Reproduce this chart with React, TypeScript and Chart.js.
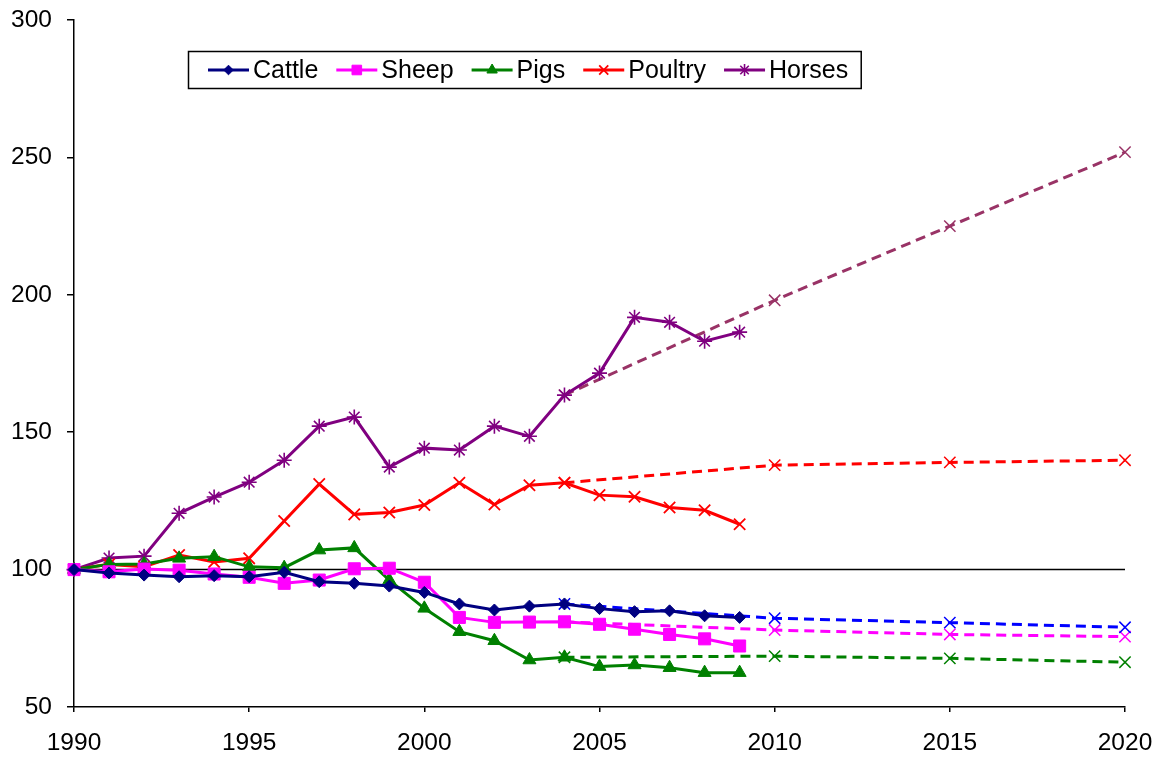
import React, { useEffect, useRef } from 'react';
import { Chart, registerables } from 'chart.js';
import { drawPoint } from 'chart.js/helpers';

Chart.register(...registerables);

// ---- data ----
const years = [1990, 1991, 1992, 1993, 1994, 1995, 1996, 1997, 1998, 1999, 2000, 2001, 2002, 2003, 2004, 2005, 2006, 2007, 2008, 2009];
const cattle = [100, 98.8, 98, 97.4, 97.8, 97.4, 99, 95.6, 95, 94, 91.7, 87.5, 85.3, 86.7, 87.5, 85.8, 84.7, 85, 83.2, 82.6];
const sheep = [100, 99.2, 100.2, 99.8, 98.4, 97.2, 95, 96.2, 100.3, 100.5, 95.4, 82.6, 80.8, 80.9, 81, 80.1, 78.3, 76.4, 74.8, 72.2];
const pigs = [100, 101.9, 102, 104.1, 104.7, 101, 100.7, 107.1, 107.9, 96.2, 85.9, 77.4, 74.1, 67.1, 68.1, 64.7, 65.3, 64.3, 62.5, 62.5];
const poultry = [100, 101.9, 101, 105.3, 102.8, 104.1, 117.7, 131.1, 120.1, 120.8, 123.5, 131.6, 123.7, 130.7, 131.6, 127.1, 126.5, 122.6, 121.6, 116.5];
const horses = [100, 104.2, 104.9, 120.5, 126.4, 131.8, 139.8, 152.2, 155.5, 137.3, 144.2, 143.5, 152.2, 148.5, 163.5, 171.5, 191.8, 190, 183.1, 186.4];

const projYears = [2004, 2010, 2015, 2020];
const cattleProj = [87.5, 82.3, 80.7, 79];
const sheepProj = [81, 78, 76.4, 75.6];
const pigsProj = [68.1, 68.5, 67.7, 66.3];
const poultryProj = [131.6, 138, 139, 139.8];
const horsesProj = [163.5, 198, 225, 251.9];

const baselineYears = [1990, 2020];
const baselineValues = [100, 100];

const xTicks = [1990, 1995, 2000, 2005, 2010, 2015, 2020];
const yTicks = [50, 100, 150, 200, 250, 300];

const seriesLabels = ['Cattle', 'Sheep', 'Pigs', 'Poultry', 'Horses'];

// ---- styles ----
const FONT = '"Liberation Sans", Arial, Helvetica, sans-serif';

const mainStyles = [
  { color: '#000080', pointStyle: 'rectRot', radius: 6, pbw: 1 },
  { color: '#FF00FF', pointStyle: 'rect', radius: 8.5, pbw: 1 },
  { color: '#008000', pointStyle: 'triangle', radius: 7.5, pbw: 1 },
  { color: '#FF0000', pointStyle: 'crossRot', radius: 8, pbw: 1.8 },
  { color: '#800080', pointStyle: 'star', radius: 7.5, pbw: 1.6 },
];
const projColors = ['#0000FF', '#FF00FF', '#008000', '#FF0000', '#993366'];

const mainValues = [cattle, sheep, pigs, poultry, horses];
const projValues = [cattleProj, sheepProj, pigsProj, poultryProj, horsesProj];

const toPoints = (xs: number[], ys: number[]) => xs.map((x, i) => ({ x, y: ys[i] }));

const clearPadding = (scale: any) => {
  scale.paddingTop = 0;
  scale.paddingBottom = 0;
  scale.paddingLeft = 0;
  scale.paddingRight = 0;
};

const legendPlugin = {
  id: 'framedLegend',
  afterDatasetsDraw(chart: any) {
    const { ctx, chartArea } = chart;
    ctx.save();
    ctx.font = `25px ${FONT}`;
    const left = chartArea.left + 114.5;
    const top = chartArea.top + 31.5;
    const height = 37;
    const lineLen = 41;
    const textGap = 4;
    const itemGap = 18;
    const padL = 19.5;
    const padR = 13;
    let x = left + padL;
    const items = seriesLabels.map((label, i) => {
      const w = ctx.measureText(label).width;
      const it = { label, i, x, w };
      x += lineLen + textGap + w + itemGap;
      return it;
    });
    const width = x - itemGap + padR - left;
    ctx.fillStyle = '#ffffff';
    ctx.fillRect(left, top, width, height);
    ctx.strokeStyle = '#000000';
    ctx.lineWidth = 1.5;
    ctx.strokeRect(left, top, width, height);
    const cy = top + height / 2;
    items.forEach((it) => {
      const st = mainStyles[it.i];
      ctx.strokeStyle = st.color;
      ctx.fillStyle = st.color;
      ctx.lineWidth = 3;
      ctx.setLineDash([]);
      ctx.beginPath();
      ctx.moveTo(it.x, cy);
      ctx.lineTo(it.x + lineLen, cy);
      ctx.stroke();
      ctx.lineWidth = st.pbw;
      drawPoint(ctx, { pointStyle: st.pointStyle, radius: st.radius * 0.8, rotation: 0, borderWidth: st.pbw } as any, it.x + lineLen / 2, cy);
      ctx.fillStyle = '#000000';
      ctx.textBaseline = 'middle';
      ctx.textAlign = 'left';
      ctx.fillText(it.label, it.x + lineLen + textGap, cy + 1);
    });
    ctx.restore();
  },
};

export default function App() {
  const canvasRef = useRef<HTMLCanvasElement | null>(null);

  useEffect(() => {
    const canvas = canvasRef.current;
    if (!canvas) return;

    const mainDatasets = seriesLabels.map((label, i) => {
      const st = mainStyles[i];
      return {
        label,
        data: toPoints(years, mainValues[i]),
        borderColor: st.color,
        backgroundColor: st.color,
        borderWidth: 3,
        pointStyle: st.pointStyle,
        pointRadius: st.radius,
        pointBorderWidth: st.pbw,
        pointBackgroundColor: st.color,
        pointBorderColor: st.color,
        tension: 0,
        clip: false,
      };
    });

    const projDatasets = seriesLabels.map((label, i) => ({
      label: label + ' projection',
      data: toPoints(projYears, projValues[i]),
      borderColor: projColors[i],
      backgroundColor: projColors[i],
      borderWidth: 3,
      borderDash: [10, 6],
      pointStyle: 'crossRot',
      pointRadius: 8,
      pointBorderWidth: 1.5,
      pointBorderColor: projColors[i],
      pointBackgroundColor: projColors[i],
      tension: 0,
      clip: false,
    }));

    const baselineDataset = {
      label: 'Baseline',
      data: toPoints(baselineYears, baselineValues),
      borderColor: '#000000',
      borderWidth: 1.5,
      pointRadius: 0,
      tension: 0,
      clip: false,
    };

    const chart = new Chart(canvas, {
      type: 'line',
      data: { datasets: [...mainDatasets, ...projDatasets, baselineDataset] as any },
      options: {
        animation: false,
        responsive: false,
        maintainAspectRatio: false,
        layout: { padding: { left: 0, top: 20, right: 36, bottom: 0 } },
        plugins: { legend: { display: false }, tooltip: { enabled: false } },
        scales: {
          x: {
            type: 'linear',
            min: 1990,
            max: 2020,
            afterBuildTicks: (scale: any) => {
              scale.ticks = xTicks.map((v) => ({ value: v }));
            },
            afterFit: (scale: any) => {
              scale.height = 51;
              clearPadding(scale);
            },
            ticks: {
              callback: (v: any) => String(v),
              font: { family: FONT, size: 24.5 },
              color: '#000000',
              padding: 17,
              maxRotation: 0,
              autoSkip: false,
            },
            grid: {
              drawOnChartArea: false,
              drawTicks: true,
              tickLength: 5,
              color: '#000000',
              lineWidth: 1.5,
            },
            border: { display: true, color: '#000000', width: 1.5 },
          },
          y: {
            type: 'linear',
            min: 50,
            max: 300,
            afterBuildTicks: (scale: any) => {
              scale.ticks = yTicks.map((v) => ({ value: v }));
            },
            afterFit: (scale: any) => {
              scale.width = 74;
              clearPadding(scale);
            },
            ticks: {
              callback: (v: any) => String(v),
              font: { family: FONT, size: 24.5 },
              color: '#000000',
              padding: 15,
              autoSkip: false,
            },
            grid: {
              drawOnChartArea: false,
              drawTicks: true,
              tickLength: 7,
              color: '#000000',
              lineWidth: 1.5,
            },
            border: { display: true, color: '#000000', width: 1.5 },
          },
        },
      } as any,
      plugins: [legendPlugin],
    });

    return () => {
      chart.destroy();
    };
  }, []);

  return (
    <div style={{ position: 'fixed', left: 0, top: 0, width: 1161, height: 758, background: '#ffffff' }}>
      <canvas ref={canvasRef} width={1161} height={758} style={{ display: 'block', width: 1161, height: 758 }} />
    </div>
  );
}
